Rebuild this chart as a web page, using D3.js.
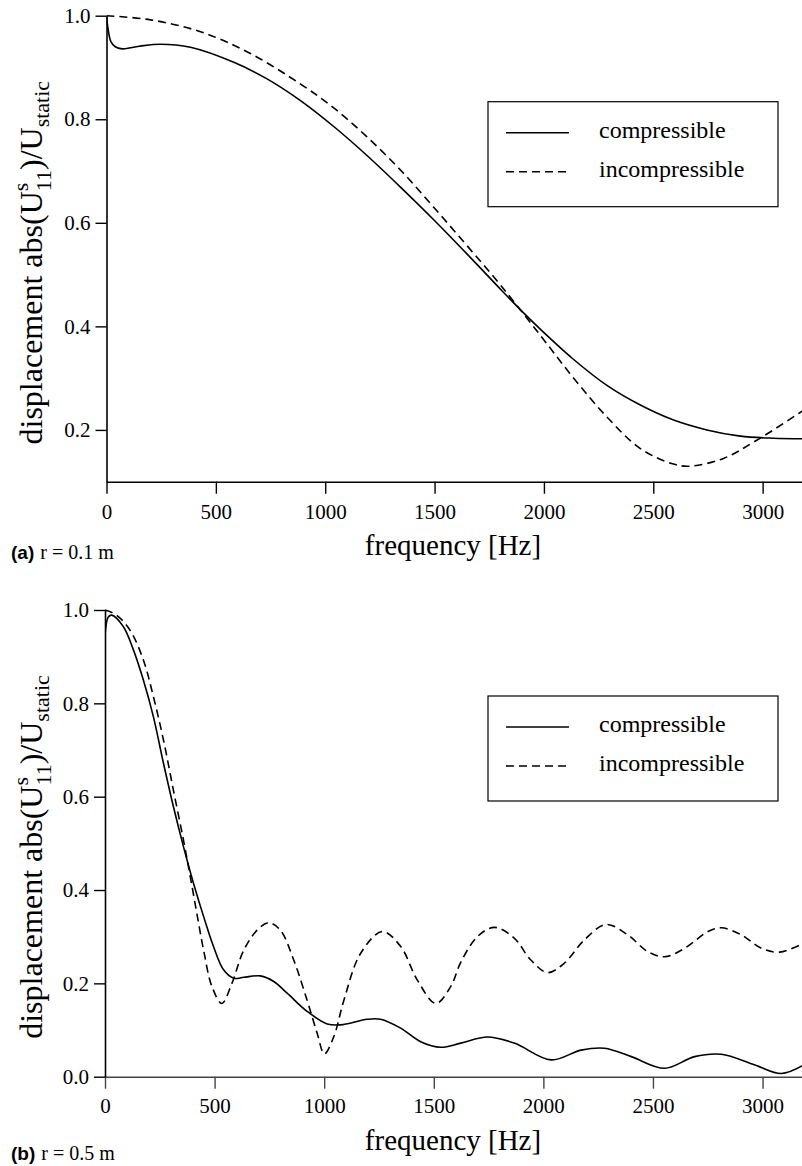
<!DOCTYPE html>
<html>
<head>
<meta charset="utf-8">
<script src="https://cdn.jsdelivr.net/npm/d3@7"></script>
<style>
  body { margin: 0; background: #fff; }
  svg { display: block; }
</style>
</head>
<body>
<div id="chart"></div>
<script>
// ---- data ----
const xTicks = [0, 500, 1000, 1500, 2000, 2500, 3000];
const yTicksA = [0.2, 0.4, 0.6, 0.8, 1.0];
const yTicksB = [0.0, 0.2, 0.4, 0.6, 0.8, 1.0];
const seriesNames = ["compressible", "incompressible"];

// (a) r = 0.1 m
const freqCompA = [0, 8, 20, 40, 72, 150, 247, 384, 582, 734, 887, 1039, 1191, 1344, 1496, 1648, 1801, 1907, 2000, 2136, 2288, 2441, 2593, 2745, 2898, 3050, 3180];
const valCompA  = [1.0, 0.972, 0.950, 0.940, 0.936, 0.941, 0.945, 0.939, 0.910, 0.878, 0.836, 0.786, 0.730, 0.669, 0.606, 0.540, 0.472, 0.426, 0.388, 0.336, 0.286, 0.248, 0.219, 0.200, 0.188, 0.184, 0.183];
const freqIncA  = [0, 201, 430, 658, 887, 1039, 1191, 1344, 1496, 1648, 1801, 1983, 2136, 2288, 2441, 2593, 2669, 2821, 2973, 3180];
const valIncA   = [1.0, 0.992, 0.969, 0.927, 0.868, 0.822, 0.766, 0.702, 0.630, 0.556, 0.480, 0.383, 0.300, 0.225, 0.164, 0.134, 0.130, 0.145, 0.180, 0.236];

// (b) r = 0.5 m
const freqCompB = [0, 15, 31, 84, 130, 175, 221, 267, 312, 358, 404, 450, 495, 541, 587, 633, 709, 770, 831, 922, 1014, 1075, 1197, 1257, 1349, 1440, 1532, 1623, 1745, 1867, 2035, 2172, 2279, 2401, 2553, 2690, 2812, 2965, 3086, 3187];
const valCompB  = [0.945, 0.985, 0.989, 0.964, 0.914, 0.850, 0.771, 0.671, 0.579, 0.493, 0.414, 0.343, 0.279, 0.229, 0.211, 0.213, 0.216, 0.204, 0.179, 0.140, 0.113, 0.111, 0.123, 0.123, 0.104, 0.075, 0.063, 0.072, 0.085, 0.072, 0.036, 0.057, 0.061, 0.043, 0.018, 0.043, 0.048, 0.025, 0.007, 0.025];
const freqIncB  = [0, 53, 114, 175, 221, 267, 312, 358, 389, 419, 450, 488, 533, 579, 633, 694, 747, 800, 861, 922, 968, 1001, 1044, 1090, 1166, 1265, 1349, 1425, 1509, 1577, 1623, 1699, 1776, 1867, 1943, 2019, 2095, 2187, 2286, 2385, 2476, 2553, 2644, 2751, 2812, 2903, 2995, 3079, 3187];
const valIncB   = [1.0, 0.989, 0.957, 0.893, 0.814, 0.721, 0.614, 0.507, 0.429, 0.350, 0.271, 0.193, 0.157, 0.200, 0.271, 0.314, 0.330, 0.314, 0.250, 0.164, 0.093, 0.049, 0.086, 0.164, 0.264, 0.311, 0.279, 0.207, 0.157, 0.193, 0.245, 0.300, 0.320, 0.297, 0.250, 0.223, 0.243, 0.293, 0.326, 0.304, 0.268, 0.257, 0.275, 0.311, 0.319, 0.304, 0.275, 0.267, 0.286];

const serif = "'Liberation Serif', 'Times New Roman', serif";
const sans = "'Liberation Sans', Arial, sans-serif";

const width = 802, height = 1166;
const svg = d3.select("#chart").append("svg")
  .attr("width", width)
  .attr("height", height);

const zip = (xs, ys) => xs.map((x, i) => [x, ys[i]]);

function drawPanel(p) {
  const g = svg.append("g");

  const x = d3.scaleLinear().domain([0, 3180]).range([p.left, width]);
  const y = d3.scaleLinear().domain(p.yDomain).range([p.bottom, p.top]);

  // clip for the curves
  const clipId = "clip-" + p.id;
  svg.append("clipPath").attr("id", clipId)
    .append("rect")
    .attr("x", p.left).attr("y", p.top - 5)
    .attr("width", width - p.left).attr("height", p.bottom - p.top + 5);

  // x axis
  const xAxis = g.append("g")
    .attr("transform", `translate(0,${p.bottom})`)
    .call(d3.axisBottom(x).tickValues(xTicks).tickSize(12).tickSizeOuter(0).tickFormat(d3.format("d")));
  xAxis.select(".domain").attr("stroke", p.xAxisColor).attr("stroke-width", 1.6);
  xAxis.selectAll(".tick line").attr("stroke", p.xAxisColor).attr("stroke-width", 1.4);
  xAxis.selectAll("text")
    .attr("y", p.xLabelOffset).attr("dy", null)
    .style("font-family", serif).style("font-size", "21px").attr("fill", "#000");

  // y axis
  const yAxis = g.append("g")
    .attr("transform", `translate(${p.left},0)`)
    .call(d3.axisLeft(y).tickValues(p.yTicks).tickSize(11).tickSizeOuter(0).tickFormat(d3.format(".1f")));
  yAxis.select(".domain").attr("stroke", "#000").attr("stroke-width", 1.6);
  yAxis.selectAll(".tick line").attr("stroke", "#000").attr("stroke-width", 1.4);
  yAxis.selectAll("text")
    .attr("x", -16)
    .style("font-family", serif).style("font-size", "21px").attr("fill", "#000");

  // curves
  const line = d3.line()
    .x(d => x(d[0]))
    .y(d => y(d[1]))
    .curve(d3.curveCatmullRom.alpha(0.5));

  const curves = g.append("g").attr("clip-path", `url(#${clipId})`);
  curves.append("path")
    .datum(zip(p.freqComp, p.valComp))
    .attr("fill", "none").attr("stroke", "#000").attr("stroke-width", 1.6)
    .attr("d", line);
  curves.append("path")
    .datum(zip(p.freqInc, p.valInc))
    .attr("fill", "none").attr("stroke", "#000").attr("stroke-width", 1.6)
    .attr("stroke-dasharray", "8,5")
    .attr("d", line);

  // y axis title with super/subscripts
  const yTitle = g.append("text")
    .attr("transform", `translate(42,${p.top + 247}) rotate(-90)`)
    .attr("text-anchor", "middle")
    .style("font-family", serif).style("font-size", "32px").attr("fill", "#000");
  yTitle.append("tspan").text("displacement abs(U");
  yTitle.append("tspan").style("font-size", "22px").attr("dy", -14).text("s");
  yTitle.append("tspan").style("font-size", "22px").attr("dx", -8.5).attr("dy", 23).text("11");
  yTitle.append("tspan").attr("dy", -9).text(")/U");
  yTitle.append("tspan").style("font-size", "22px").attr("dy", 7).text("static");

  // x axis title
  g.append("text")
    .attr("x", 453).attr("y", p.bottom + 73)
    .attr("text-anchor", "middle")
    .style("font-family", serif).style("font-size", "29px").attr("fill", "#000")
    .text("frequency [Hz]");

  // panel label
  const lab = g.append("text")
    .attr("x", 11).attr("y", p.panelLabelY)
    .attr("fill", "#000");
  lab.append("tspan").style("font-family", sans).style("font-weight", "bold").style("font-size", "19px").text(p.tag);
  lab.append("tspan").attr("dx", 6).style("font-family", serif).style("font-size", "20px").text(p.caption);

  // legend
  const lx = 488, ly = p.top + 86;
  const legend = g.append("g").attr("transform", `translate(${lx},${ly})`);
  legend.append("rect")
    .attr("width", 290).attr("height", 105)
    .attr("fill", "#fff").attr("stroke", "#000").attr("stroke-width", 1.2);
  seriesNames.forEach((name, i) => {
    const yy = 31 + i * 39;
    legend.append("line")
      .attr("x1", 18).attr("x2", 81).attr("y1", yy).attr("y2", yy)
      .attr("stroke", "#000").attr("stroke-width", 1.6)
      .attr("stroke-dasharray", i === 1 ? "8,5" : null);
    legend.append("text")
      .attr("x", 111).attr("y", yy + 5)
      .style("font-family", serif).style("font-size", "24px").attr("fill", "#000")
      .text(name);
  });
}

drawPanel({
  id: "a", left: 106.5, top: 15.7, bottom: 481.7, yDomain: [0.1, 1.0], yTicks: yTicksA,
  freqComp: freqCompA, valComp: valCompA, freqInc: freqIncA, valInc: valIncA,
  xAxisColor: "#000", xLabelOffset: 37, panelLabelY: 559, tag: "(a)", caption: "r = 0.1 m"
});

drawPanel({
  id: "b", left: 105, top: 610, bottom: 1076.7, yDomain: [0.0, 1.0], yTicks: yTicksB,
  freqComp: freqCompB, valComp: valCompB, freqInc: freqIncB, valInc: valIncB,
  xAxisColor: "#444", xLabelOffset: 36, panelLabelY: 1160, tag: "(b)", caption: "r = 0.5 m"
});
</script>
</body>
</html>
